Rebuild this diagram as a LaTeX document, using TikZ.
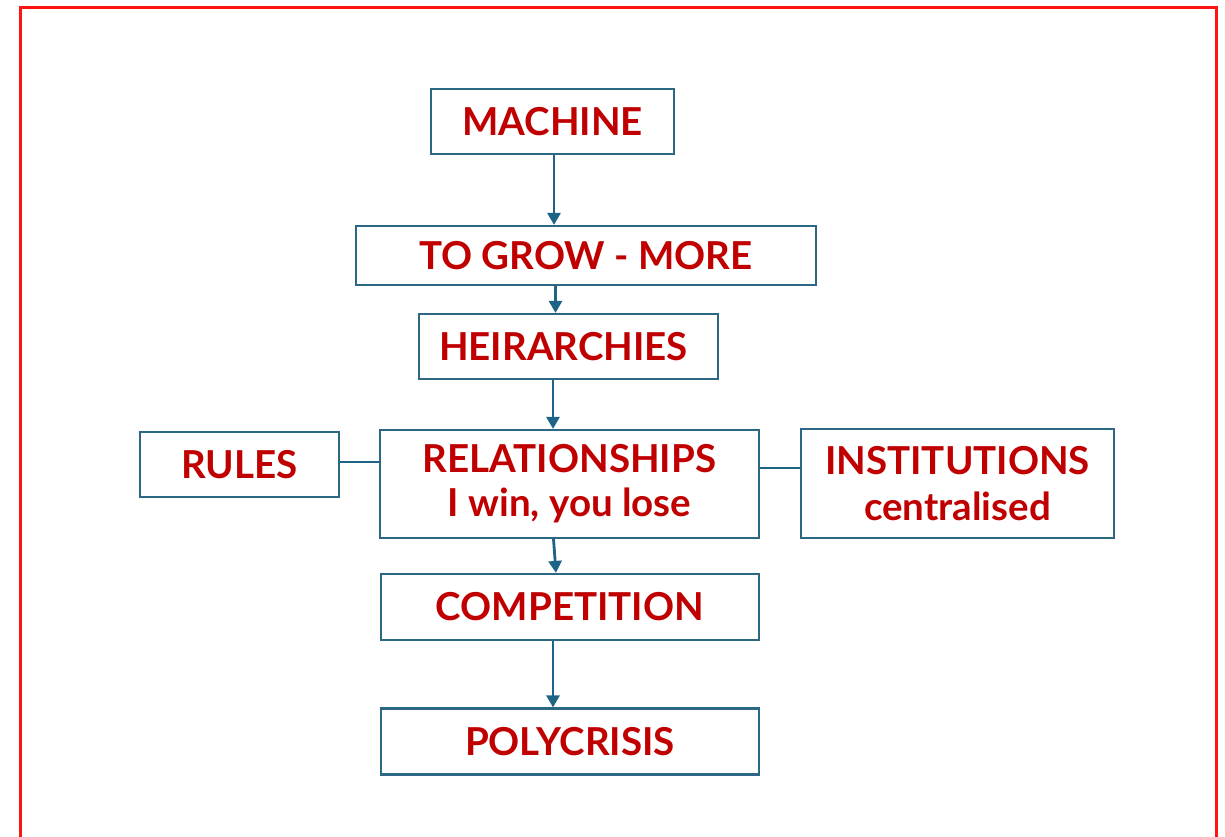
\documentclass[tikz,border=0pt]{standalone}
\usepackage{fontspec}
\setmainfont{Lato}
\usetikzlibrary{arrows.meta,calc}
\definecolor{boxline}{RGB}{44,104,132}
\definecolor{arrline}{RGB}{30,100,135}
\definecolor{txtred}{RGB}{192,0,0}
\definecolor{frame}{RGB}{255,20,20}
\tikzset{
  box/.style={draw=boxline, line width=2.2pt, inner sep=0pt, rectangle,
    text=txtred, font=\fontsize{38.5}{46}\selectfont\bfseries, align=center},
  arr/.style={draw=arrline, line width=2.8pt, -{Triangle[width=13pt,length=12pt]}},
  link/.style={draw=arrline, line width=2.8pt}
}
\begin{document}
\begin{tikzpicture}[x=1pt,y=-1pt]
\useasboundingbox (0,0) rectangle (1225,836);
\draw[frame, line width=3pt] (20,840) -- (20,7) -- (1216,7) -- (1216,840);

\node[box, minimum width=243pt, minimum height=65pt] (machine) at (552.5,121.5) {\raisebox{-1pt}{MACHINE}};
\node[box, minimum width=460pt, minimum height=59pt] (grow) at (586,255.5) {\raisebox{-3pt}{TO GROW - MORE}};
\node[box, minimum width=299pt, minimum height=65pt] (heir) at (568.5,346.5) {\hspace*{-10pt}\raisebox{-1pt}{HEIRARCHIES}};
\node[box, minimum width=379pt, minimum height=108pt] (rel) at (569.5,484) {\raisebox{-2pt}{RELATIONSHIPS}\\I win, you lose};
\node[box, minimum width=199pt, minimum height=65pt] (rules) at (239.5,464.5) {RULES};
\node[box, minimum width=313pt, minimum height=109pt] (inst) at (957.5,483.5) {INSTITUTIONS\\centralised};
\node[box, minimum width=378pt, minimum height=66pt] (comp) at (570,607) {COMPETITION};
\node[box, minimum width=378pt, minimum height=66pt] (poly) at (570,741.5) {POLYCRISIS};

\draw[arr] ([xshift=1.5pt]machine.south) -- ([xshift=1.5pt]machine.south |- grow.north);
\draw[arr] ([xshift=-30.5pt]grow.south) -- ([xshift=-30.5pt]grow.south |- heir.north);
\draw[arr] ([xshift=-15.5pt]heir.south) -- ([xshift=-15.5pt]heir.south |- rel.north);
\draw[arr] ([xshift=-16pt]rel.south) -- ([xshift=-14pt]comp.north);
\draw[arr] ([xshift=-17pt]comp.south) -- ([xshift=-17pt]comp.south |- poly.north);
\draw[link] ([yshift=2.5pt]rules.east) -- ([yshift=2.5pt]rules.east -| rel.west);
\draw[link] ([yshift=16pt]rel.east) -- ([yshift=16pt]rel.east -| inst.west);
\end{tikzpicture}
\end{document}
